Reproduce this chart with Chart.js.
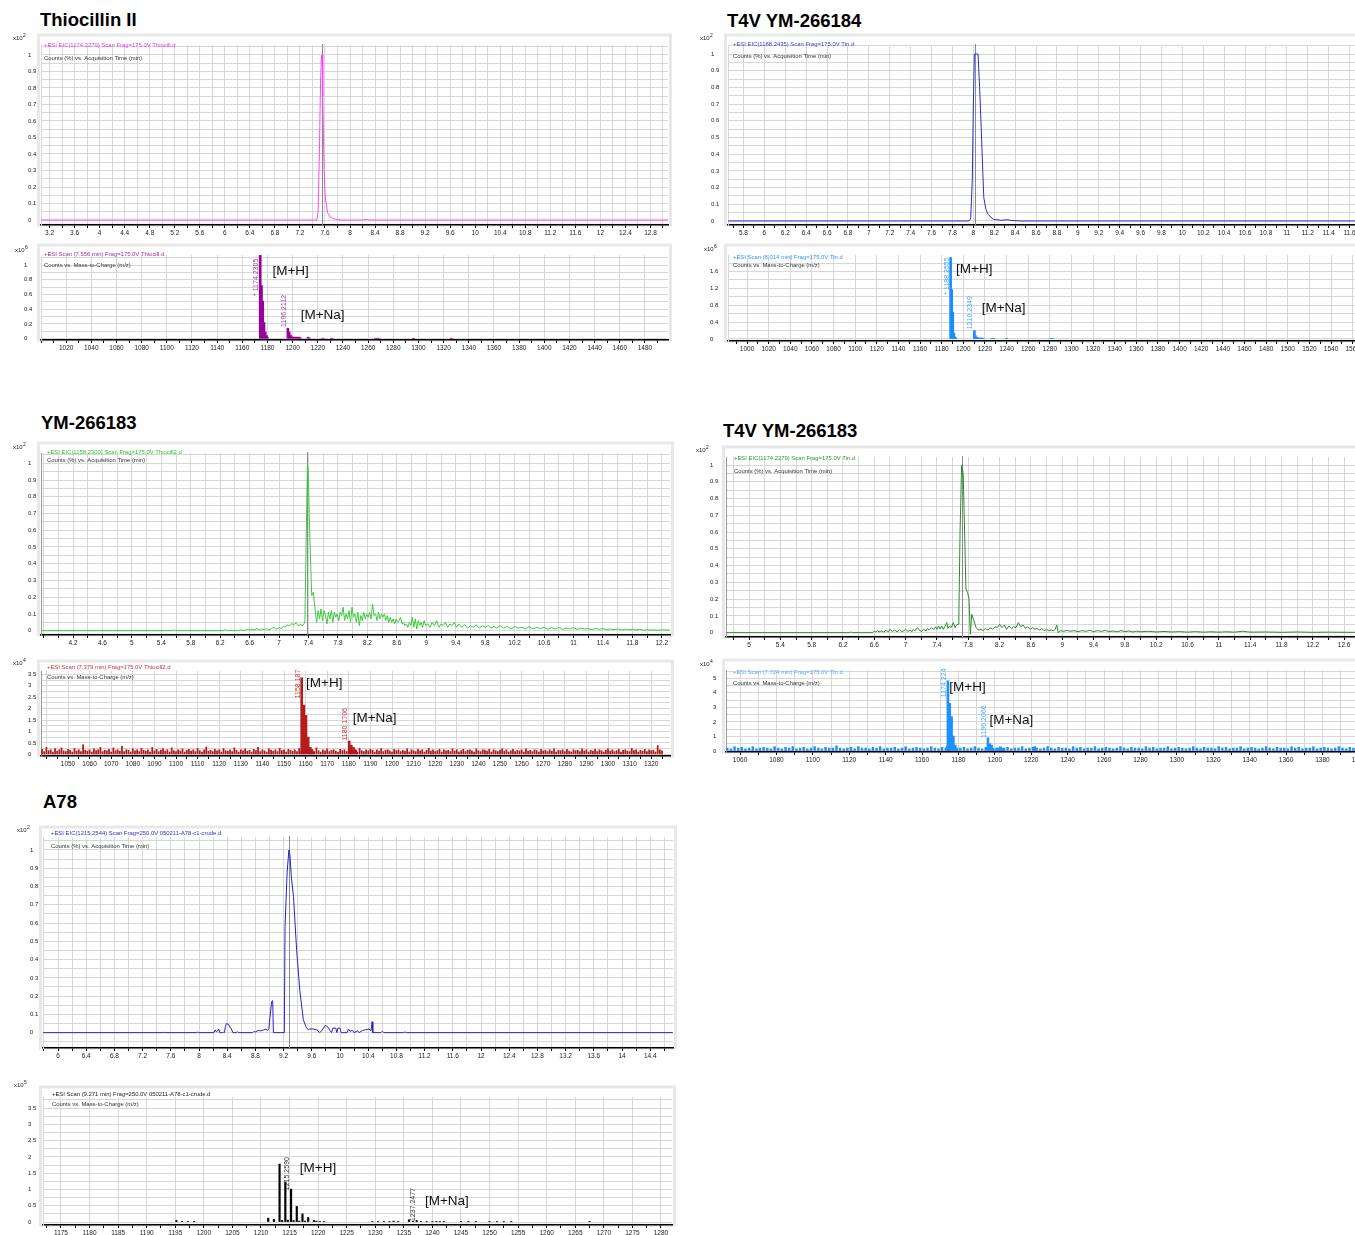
<!DOCTYPE html>
<html>
<head>
<meta charset="utf-8">
<script src="https://cdn.jsdelivr.net/npm/chart.js@4.4.1/dist/chart.umd.min.js"></script>
<style>
  body { margin: 0; width: 1355px; height: 1235px; overflow: hidden; background: #fff; position: relative; }
  .ttl { position: absolute; font: bold 18.5px "Liberation Sans", Arial, sans-serif; line-height: 1; color: #000; white-space: nowrap; }
  canvas { position: absolute; }
</style>
</head>
<body>
<div class="ttl" style="left:40px;top:11px">Thiocillin II</div>
<div class="ttl" style="left:727px;top:11.5px">T4V YM-266184</div>
<div class="ttl" style="left:41px;top:414px">YM-266183</div>
<div class="ttl" style="left:723px;top:421.5px">T4V YM-266183</div>
<div class="ttl" style="left:43px;top:793px">A78</div>

<canvas id="c1"></canvas>
<canvas id="c2"></canvas>
<canvas id="c3"></canvas>
<canvas id="c4"></canvas>
<canvas id="c5"></canvas>
<canvas id="c6"></canvas>
<canvas id="c7"></canvas>
<canvas id="c8"></canvas>
<canvas id="c9"></canvas>
<canvas id="c10"></canvas>

<script>
const FONT = '"Liberation Sans", Arial, sans-serif';
const GRID = '#d7d7d7';

// ---- Thiocillin II : EIC [time (min), counts x10^2] and MS [m/z, counts x10^6]
const thioEic = [[3.06,0],[7.47,0],[7.49,0.05],[7.51,0.4],[7.53,0.85],[7.545,1.0],[7.555,1.0],[7.565,0.75],
  [7.58,0.4],[7.595,0.2],[7.61,0.12],[7.62,0.1],[7.64,0.045],[7.68,0.02],[7.73,0.008],[7.8,0.003],[7.86,0],
  [8.2,0],[8.24,0.004],[8.28,0.002],[8.32,0],[13.08,0]];
const thioMs = [[1174.23,1.15],[1175.23,0.72],[1176.23,0.51],[1177.23,0.22],[1178.23,0.09],[1179.23,0.04],[1180.2,0.015],
  [1196.21,0.14],[1197.21,0.09],[1198.21,0.05],[1199.2,0.025],[1200.2,0.02],[1201.2,0.02],[1202.2,0.02],[1203.2,0.02],
  [1204.2,0.02],[1205.2,0.02],[1206.2,0.01],[1212.2,0.02],[1213.2,0.01],[1224,0.005],[1231,0.005],[1266,0.005],
  [1268,0.005],[1296,0.004],[1326,0.004]];

// ---- T4V YM-266184
const t4v184Eic = [[5.65,0],[7.95,0],[7.965,0.003],[7.975,0.02],[7.99,0.25],[8.0,0.7],[8.01,1.0],[8.03,1.0],[8.045,1.0],
  [8.06,0.8],[8.075,0.56],[8.09,0.3],[8.1,0.14],[8.12,0.07],[8.14,0.04],[8.19,0.01],[8.27,0.004],[8.33,0.008],
  [8.36,0.003],[8.45,0],[11.82,0]];
const t4v184Ms = [[1188.26,1.93],[1189.26,1.17],[1190.26,0.63],[1191.26,0.14],[1192.26,0.05],[1193.2,0.02],
  [1210.23,0.2],[1211.23,0.08],[1212.2,0.04],[1213.2,0.03],[1214.2,0.02],[1215.2,0.02],[1216.2,0.02],[1217.2,0.02],
  [1218.2,0.02],[1226,0.01],[1228,0.01],[1240,0.008],[1281,0.01],[1282,0.01]];

// ---- YM-266183
const ym183Eic = [[3.77,0],[5.55,0],[5.57,0.006],[5.59,0],[6.25,0],[6.27,0.008],[6.29,0],[6.45,0],[6.47,0.006],[6.5,0.001],
  [6.55,0.004],[6.58,0.01],[6.6,0.003],[6.63,0.008],[6.66,0.004],[6.7,0.012],[6.73,0.005],[6.76,0.01],[6.8,0.006],
  [6.83,0.012],[6.86,0.004],[6.9,0.014],[6.93,0.02],[6.96,0.008],[7.0,0.018],[7.03,0.012],[7.06,0.028],[7.08,0.02],
  [7.11,0.034],[7.14,0.028],[7.17,0.042],[7.2,0.036],[7.23,0.045],[7.26,0.03],[7.29,0.038],[7.31,0.028],[7.33,0.035],
  [7.35,0.05],[7.37,0.6],[7.385,1.0],[7.395,0.96],[7.42,0.52],[7.443,0.21],[7.465,0.23],[7.49,0.12],[7.51,0.05],
  [7.53,0.12],[7.55,0.07],[7.57,0.13],[7.59,0.06],[7.61,0.12],[7.63,0.09],[7.65,0.04],[7.67,0.11],[7.69,0.07],
  [7.71,0.12],[7.73,0.05],[7.75,0.11],[7.77,0.08],[7.79,0.1],[7.81,0.06],[7.83,0.11],[7.85,0.09],[7.87,0.14],
  [7.89,0.06],[7.91,0.1],[7.93,0.07],[7.95,0.12],[7.97,0.05],[7.99,0.14],[8.01,0.08],[8.03,0.1],[8.05,0.05],
  [8.07,0.11],[8.09,0.03],[8.11,0.09],[8.13,0.06],[8.15,0.11],[8.17,0.07],[8.19,0.1],[8.21,0.08],[8.23,0.11],
  [8.25,0.07],[8.27,0.16],[8.29,0.09],[8.31,0.1],[8.33,0.06],[8.35,0.11],[8.37,0.07],[8.39,0.1],[8.41,0.08],
  [8.43,0.1],[8.45,0.06],[8.47,0.09],[8.49,0.05],[8.51,0.08],[8.53,0.05],[8.55,0.07],[8.57,0.04],[8.59,0.07],
  [8.61,0.05],[8.63,0.06],[8.65,0.08],[8.67,0.04],[8.69,0.05],[8.71,0.03],[8.73,0.04],[8.75,0.02],[8.77,0.05],
  [8.79,0.03],[8.81,0.08],[8.83,0.02],[8.85,0.07],[8.87,0.01],[8.89,0.06],[8.91,0.03],[8.93,0.05],[8.95,0.02],
  [8.97,0.06],[8.99,0.03],[9.02,0.04],[9.05,0.02],[9.08,0.05],[9.11,0.03],[9.14,0.06],[9.17,0.02],[9.2,0.04],
  [9.23,0.03],[9.26,0.05],[9.29,0.02],[9.32,0.04],[9.35,0.03],[9.38,0.05],[9.41,0.02],[9.44,0.04],[9.48,0.02],
  [9.52,0.035],[9.56,0.015],[9.6,0.03],[9.64,0.02],[9.68,0.035],[9.72,0.015],[9.76,0.03],[9.8,0.02],[9.84,0.03],
  [9.88,0.015],[9.92,0.025],[9.96,0.015],[10.0,0.03],[10.05,0.015],[10.1,0.025],[10.15,0.01],[10.2,0.025],
  [10.25,0.015],[10.3,0.02],[10.35,0.01],[10.4,0.025],[10.45,0.01],[10.5,0.02],[10.55,0.012],[10.6,0.02],
  [10.65,0.008],[10.7,0.018],[10.75,0.01],[10.8,0.02],[10.85,0.008],[10.9,0.015],[10.95,0.01],[11.0,0.018],
  [11.05,0.008],[11.1,0.015],[11.15,0.01],[11.2,0.012],[11.25,0.006],[11.3,0.014],[11.35,0.008],[11.4,0.012],
  [11.45,0.005],[11.5,0.01],[11.55,0.006],[11.6,0.01],[11.65,0.004],[11.7,0.009],[11.75,0.005],[11.8,0.008],
  [11.85,0.004],[11.9,0.007],[11.95,0.003],[12.0,0.006],[12.05,0.003],[12.1,0.005],[12.15,0.002],[12.2,0.004],[12.31,0.003]];
const ym183Ms = [[1158.19,3.35],[1159.19,2.15],[1160.19,1.7],[1161.19,0.75],[1162.2,0.3],[1163.2,0.15],
  [1180.17,0.58],[1181.17,0.4],[1182.17,0.3],[1183.2,0.18]];
// baseline noise, one value per m/z unit starting at 1037
const ym183NoiseStart = 1037;
const ym183Noise = [
  .18,.22,.12,.3,.16,.2,.1,.25,.14,.2,.28,.15,.12,.22,.18,.1,.26,.15,.2,.12,.42,.18,.14,.2,
  .1,.24,.16,.2,.3,.12,.18,.15,.22,.1,.28,.16,.2,.14,.35,.12,.2,.18,.1,.24,.15,.2,.12,.26,
  .18,.14,.2,.1,.3,.15,.22,.12,.18,.25,.14,.2,.1,.28,.16,.12,.2,.15,.24,.1,.18,.22,.14,.2,
  .12,.26,.16,.1,.2,.32,.14,.18,.12,.22,.15,.2,.1,.25,.16,.14,.2,.12,.28,.18,.1,.2,.15,.24,
  .14,.18,.1,.22,.16,.3,.12,.2,.15,.1,.24,.18,.14,.2,.12,.26,.16,.2,.1,.22,.18,.14,.2,.12,
  .25,.15,.1,.2,.18,.14,.22,.12,.28,.16,.1,.2,.15,.24,.12,.18,.2,.14,.1,.22,.16,.2,.12,.18,
  .24,.14,.2,.1,.26,.16,.12,.2,.15,.22,.18,.1,.2,.14,.25,.12,.18,.2,.15,.1,.22,.16,.2,.12,
  .18,.14,.24,.1,.2,.16,.12,.22,.15,.2,.1,.18,.26,.14,.2,.12,.16,.22,.1,.2,.15,.18,.12,.24,
  .14,.2,.1,.16,.22,.12,.18,.2,.15,.1,.24,.16,.12,.2,.18,.14,.22,.1,.2,.16,.12,.18,.24,.14,
  .2,.1,.16,.22,.12,.18,.15,.2,.1,.24,.14,.18,.12,.2,.16,.1,.22,.15,.18,.12,.2,.14,.24,.1,
  .18,.16,.2,.12,.22,.14,.1,.2,.16,.18,.12,.24,.15,.2,.1,.18,.14,.22,.12,.2,.16,.1,.18,.24,
  .14,.2,.12,.16,.22,.1,.18,.2,.14,.12,.26,.16,.2,.1,.18,.14,.22,.12,.2,.16,.18,.1,.38,.2,
  .15];

// ---- T4V YM-266183
const t4v183Eic = [[4.7,0],[6.28,0],[6.3,0.004],[6.32,0],[6.58,0],[6.6,0.01],[6.62,0.003],[6.64,0.012],[6.66,0.004],
  [6.69,0.01],[6.72,0.003],[6.75,0.014],[6.78,0.005],[6.8,0.02],[6.83,0.007],[6.86,0.015],[6.89,0.004],[6.92,0.018],
  [6.95,0.006],[6.98,0.012],[7.0,0.02],[7.03,0.007],[7.06,0.016],[7.08,0.005],[7.1,0.02],[7.12,0.01],[7.15,0.03],
  [7.18,0.012],[7.2,0.008],[7.23,0.02],[7.26,0.01],[7.28,0.025],[7.3,0.015],[7.33,0.03],[7.36,0.018],[7.38,0.035],
  [7.4,0.02],[7.42,0.04],[7.44,0.022],[7.46,0.04],[7.48,0.02],[7.5,0.035],[7.525,0.06],[7.54,0.025],[7.56,0.04],
  [7.58,0.03],[7.61,0.06],[7.63,0.03],[7.65,0.045],[7.67,0.05],[7.68,0.1],[7.695,0.6],[7.715,1.0],[7.735,0.95],
  [7.757,0.53],[7.77,0.26],[7.79,0.24],[7.81,0.2],[7.826,-0.01],[7.844,0.11],[7.865,0.08],[7.9,0.03],[7.93,0.015],
  [7.96,0.02],[7.99,0.012],[8.02,0.025],[8.05,0.015],[8.08,0.03],[8.11,0.02],[8.14,0.035],[8.17,0.03],[8.2,0.05],
  [8.23,0.03],[8.26,0.045],[8.29,0.02],[8.32,0.04],[8.35,0.025],[8.38,0.035],[8.41,0.03],[8.44,0.06],[8.47,0.035],
  [8.5,0.045],[8.53,0.025],[8.56,0.035],[8.59,0.02],[8.62,0.03],[8.65,0.02],[8.68,0.025],[8.71,0.015],[8.74,0.025],
  [8.77,0.012],[8.8,0.02],[8.83,0.01],[8.86,0.016],[8.89,0.01],[8.91,0.02],[8.93,0.045],[8.95,0.0],[8.98,0.012],
  [9.02,0.008],[9.06,0.014],[9.1,0.008],[9.15,0.012],[9.2,0.006],[9.25,0.012],[9.3,0.008],[9.35,0.014],[9.4,0.006],
  [9.45,0.012],[9.5,0.008],[9.55,0.013],[9.6,0.006],[9.65,0.01],[9.7,0.005],[9.75,0.012],[9.8,0.006],[9.85,0.01],
  [9.9,0.004],[9.95,0.009],[10.0,0.005],[10.1,0.008],[10.2,0.004],[10.3,0.007],[10.4,0.004],[10.5,0.006],[10.6,0.003],
  [10.7,0.006],[10.8,0.003],[10.9,0.005],[11.0,0.003],[11.1,0.005],[11.2,0.003],[11.3,0.008],[11.4,0.003],[11.6,0.004],
  [11.8,0.002],[12.0,0.004],[12.2,0.002],[12.4,0.003],[12.6,0.002],[12.96,0.002]];
const t4v183Ms = [[1173.8,0.34],[1174.22,4.83],[1174.7,0.34],[1175.22,3.28],[1175.7,0.3],[1176.22,2.36],[1177.22,1.03],
  [1178.22,0.4],[1179.2,0.15],[1196.21,0.91],[1197.21,0.5],[1198.21,0.4],[1199.2,0.1],[1201,0.2],[1202,0.2],
  [1203,0.2],[1204,0.2],[1205,0.15],[1222,0.3]];
// baseline noise, one value every 2 m/z units starting at 1053
const t4v183NoiseStart = 1053;
const t4v183Noise = [
  .2,.15,.3,.2,.25,.15,.2,.3,.15,.2,.25,.2,.15,.3,.2,.15,.25,.2,.3,.15,.2,.25,.15,.2,
  .3,.2,.15,.25,.2,.2,.35,.2,.15,.2,.25,.15,.3,.2,.2,.15,.25,.2,.3,.15,.2,.2,.25,.15,
  .2,.3,.15,.2,.25,.2,.15,.2,.3,.2,.15,.25,.2,.3,.15,.2,.2,.25,.15,.2,.3,.2,.15,.25,
  .2,.2,.15,.3,.2,.25,.15,.2,.2,.3,.15,.2,.25,.2,.15,.2,.3,.2,.15,.25,.2,.2,.15,.3,
  .2,.25,.15,.2,.2,.3,.15,.2,.25,.2,.15,.2,.3,.2,.15,.25,.2,.2,.15,.3,.2,.25,.15,.2,
  .2,.3,.15,.2,.25,.2,.15,.2,.3,.2,.15,.25,.2,.2,.15,.3,.2,.25,.15,.2,.2,.3,.15,.2,
  .25,.2,.15,.2,.3,.2,.15,.25,.2,.2,.15,.3,.2,.25,.15,.2,.2,.3,.15,.2,.25,.2,.15,.2,
  .3,.2,.15,.25,.2,.2,.15,.3,.2];

// ---- A78
const a78Eic = [[5.79,0],[7.49,0],[7.5,0.003],[7.51,0],[7.97,0],[7.98,0.005],[7.99,0],[8.21,0],[8.23,0.015],[8.245,0.004],
  [8.26,0.008],[8.28,0.02],[8.295,0],[8.33,0],[8.345,0.002],[8.36,0],[8.375,0.035],[8.39,0.05],[8.42,0.045],[8.44,0.03],
  [8.46,0.02],[8.48,0],[8.53,0],[8.545,0.006],[8.56,0],[8.76,0],[8.775,0.006],[8.8,0.004],[8.84,0.012],[8.88,0.01],
  [8.92,0.015],[8.95,0.02],[8.97,0.012],[8.99,0.02],[9.03,0.17],[9.045,0.175],[9.055,0],[9.21,0],[9.22,0.58],
  [9.25,0.88],[9.275,1.0],[9.29,0.97],[9.31,0.85],[9.34,0.745],[9.385,0.45],[9.43,0.23],[9.48,0.07],[9.52,0.03],
  [9.55,0.015],[9.57,0.02],[9.62,0.02],[9.67,0.015],[9.71,0],[9.74,0.01],[9.79,0.04],[9.83,0.03],[9.86,0.01],[9.88,0],
  [9.9,0.025],[9.94,0.025],[9.955,0],[9.97,0.025],[10.0,0.025],[10.015,0],[10.1,0],[10.12,0.02],[10.14,0.008],
  [10.18,0.012],[10.2,0],[10.25,0.01],[10.27,0],[10.32,0.012],[10.36,0.015],[10.41,0.02],[10.44,0.01],[10.455,0.06],
  [10.465,0],[10.58,0],[10.6,0.008],[10.62,0],[10.9,0],[10.92,0.004],[10.94,0],[14.72,0]];
const a78Ms = [[1195.2,0.05],[1196.2,0.02],[1197.2,0.02],[1198.3,0.01],[1211.26,0.12],[1212.26,0.08],[1213.25,1.78],
  [1213.7,0.05],[1214.26,1.23],[1214.7,0.06],[1215.26,1.01],[1215.7,0.05],[1216.26,0.48],[1216.7,0.03],[1217.26,0.25],
  [1217.7,0.03],[1218.26,0.14],[1219.26,0.05],[1219.7,0.03],[1220.3,0.02],[1221,0.01],[1229.5,0.01],[1230.5,0.01],
  [1231.5,0.01],[1232.5,0.01],[1233.2,0.03],[1234,0.01],[1235.9,0.07],[1236.6,0.03],[1237.25,0.05],[1238,0.02],
  [1239,0.01],[1240,0.01],[1240.7,0.01],[1241.3,0.01],[1242,0.01],[1245,0.01],[1246.3,0.01],[1247.6,0.01],[1250,0.01],
  [1251.3,0.01],[1252.5,0.01],[1253.8,0.01],[1267.5,0.01]];

const pts = arr => arr.map(d => ({x: d[0], y: d[1]}));
const noisePts = (start, gap, vals) => vals.map((v, i) => ({x: start + i * gap, y: v}));

function isStep(v, s, from) {
  const k = (v - (from || 0)) / s;
  return Math.abs(k - Math.round(k)) < 1e-6;
}
function fmt(v) { return String(parseFloat(v.toFixed(4))); }
// every multiple of step inside [min, max]
function stepTicks(min, max, step) {
  const out = [];
  for (let k = Math.ceil(min / step - 1e-9); k * step <= max + 1e-9; k++) {
    out.push({value: parseFloat((k * step).toFixed(6))});
  }
  return out;
}

function makeDecor(p) {
  return {
    id: 'decor',
    beforeDraw(chart) {
      const {ctx, chartArea: a} = chart;
      ctx.save();
      ctx.strokeStyle = '#e8e8e8';
      ctx.lineWidth = 3;
      ctx.strokeRect(a.left - 2.5, a.top - 10, a.right - a.left + 5, a.bottom - a.top + 10);
      ctx.restore();
    },
    beforeDatasetsDraw(chart) {
      const {ctx, chartArea: a, scales} = chart;
      if (p.marker == null) return;
      ctx.save();
      const mx = Math.round(scales.x.getPixelForValue(p.marker)) + 0.5;
      ctx.strokeStyle = '#8a8a8a';
      ctx.lineWidth = 1;
      ctx.beginPath();
      ctx.moveTo(mx, a.top - 1);
      ctx.lineTo(mx, a.bottom);
      ctx.stroke();
      ctx.restore();
    },
    afterDatasetsDraw(chart) {
      const {ctx, chartArea: a, scales} = chart;
      ctx.save();
      ctx.textAlign = 'left';
      ctx.textBaseline = 'middle';
      // header lines
      ctx.font = '5.9px ' + FONT;
      p.info.forEach(t => {
        ctx.fillStyle = t[1];
        ctx.fillText(t[0], a.left + p.infoDx, a.top + t[2]);
      });
      // exponent
      ctx.fillStyle = '#222';
      ctx.font = '6px ' + FONT;
      const ex = a.left + p.exp[0], ey = a.top + p.exp[1];
      ctx.fillText('x10', ex, ey);
      const w = ctx.measureText('x10').width;
      ctx.font = '5px ' + FONT;
      ctx.fillText(p.exp[2], ex + w + 0.3, ey - 2.5);
      // peak labels (rotated)
      (p.peaks || []).forEach(k => {
        ctx.save();
        ctx.translate(scales.x.getPixelForValue(k.mz) - 4, scales.y.getPixelForValue(k.at));
        ctx.rotate(-Math.PI / 2);
        ctx.font = '7px ' + FONT;
        ctx.fillStyle = p.peakColor;
        ctx.fillText(k.text, 0, 0);
        ctx.restore();
      });
      // ion annotations
      ctx.font = '13.5px ' + FONT;
      ctx.fillStyle = '#111';
      (p.ions || []).forEach(k => {
        ctx.fillText(k.text, scales.x.getPixelForValue(k.mz), scales.y.getPixelForValue(k.at));
      });
      ctx.restore();
    }
  };
}

function makePanel(p) {
  const cv = document.getElementById(p.id);
  cv.width = p.box[2];
  cv.height = p.box[3];
  cv.style.left = p.box[0] + 'px';
  cv.style.top = p.box[1] + 'px';
  const yw = p.plot[0] - p.yLabelX, xh = 14;

  let datasets;
  if (p.type === 'line') {
    datasets = [{data: pts(p.trace), borderColor: p.color, borderWidth: 1, pointRadius: 0, tension: 0}];
  } else {
    datasets = p.bars.map(b => ({data: b.data, backgroundColor: b.color, barThickness: b.thick, grouped: false}));
  }

  new Chart(cv, {
    type: p.type,
    data: {datasets},
    options: {
      responsive: false,
      animation: false,
      devicePixelRatio: 1,
      layout: {padding: {
        left: p.yLabelX - p.box[0],
        top: p.plot[1] - p.box[1],
        right: p.box[0] + p.box[2] - p.plot[2],
        bottom: p.box[1] + p.box[3] - p.plot[3] - xh
      }},
      plugins: {legend: {display: false}, tooltip: {enabled: false}},
      scales: {
        x: {
          type: 'linear', min: p.x.min, max: p.x.max, offset: false,
          afterBuildTicks: s => { s.ticks = stepTicks(p.x.min, p.x.max, p.x.step); },
          afterFit: s => { s.height = xh; },
          ticks: {
            autoSkip: false, maxRotation: 0, minRotation: 0, padding: 1,
            color: '#222', font: {size: 6.5, family: FONT},
            callback: v => (v >= p.x.first - 1e-9 && isStep(v, p.x.label, p.x.first)) ? fmt(v) : ''
          },
          grid: {
            offset: false, lineWidth: 1, tickLength: 3, tickColor: '#000',
            color: c => isStep(c.tick.value, p.x.grid) ? GRID : 'rgba(0,0,0,0)'
          },
          border: {color: '#000', width: 1.5}
        },
        y: {
          min: p.y.min, max: p.y.max,
          afterBuildTicks: s => { s.ticks = stepTicks(p.y.min, p.y.max, p.y.step); },
          afterFit: s => { s.width = yw; },
          ticks: {
            autoSkip: false, crossAlign: 'far', padding: 0,
            color: '#222', font: {size: 6, family: FONT},
            callback: v => (v >= -1e-9 && isStep(v, p.y.label)) ? fmt(v) : ''
          },
          grid: {color: GRID, drawTicks: false, lineWidth: 1},
          border: {color: p.yBorder || GRID, width: 1}
        }
      }
    },
    plugins: [makeDecor(p)]
  });
}

const EIC_LINE2 = 'Counts (%) vs. Acquisition Time (min)';
const MS_LINE2 = 'Counts vs. Mass-to-Charge (m/z)';

makePanel({
  id: 'c1', type: 'line', box: [0, 30, 680, 210], plot: [41, 45, 668, 225], yLabelX: 28,
  x: {min: 3.063, max: 13.08, step: 0.2, grid: 0.2, label: 0.4, first: 3.2},
  y: {min: -0.0303, max: 1.0606, step: 0.05, label: 0.1},
  trace: thioEic, color: '#ff44ff', marker: 7.556, exp: [-28, -7, '2'], infoDx: 3,
  info: [['+ESI EIC(1174.2279) Scan Frag=175.0V Thiocill.d', '#e23de2', 0], [EIC_LINE2, '#333', 13]]
});
makePanel({
  id: 'c2', type: 'bar', box: [0, 240, 680, 120], plot: [41, 255, 668, 340], yLabelX: 24,
  x: {min: 1000, max: 1498.3, step: 10, grid: 20, label: 20, first: 1020},
  y: {min: -0.018, max: 1.136, step: 0.1, label: 0.2},
  bars: [{data: pts(thioMs), color: '#990099', thick: 2}], exp: [-26, -5, '6'], infoDx: 3,
  info: [['+ESI Scan (7.556 min) Frag=175.0V Thiocill.d', '#a02ca0', -1], [MS_LINE2, '#333', 10]],
  peakColor: '#a640a6',
  peaks: [{text: '* 1174.2305', mz: 1174.23, at: 0.58}, {text: '1196.2112', mz: 1196.21, at: 0.16}],
  ions: [{text: '[M+H]', mz: 1183.9, at: 0.91}, {text: '[M+Na]', mz: 1206.4, at: 0.32}]
});
makePanel({
  id: 'c3', type: 'line', box: [690, 30, 700, 210], plot: [728, 45, 1372, 225], yLabelX: 711,
  x: {min: 5.652, max: 11.815, step: 0.1, grid: 0.2, label: 0.2, first: 5.8},
  y: {min: -0.024, max: 1.054, step: 0.05, label: 0.1},
  trace: t4v184Eic, color: '#2b2bd9', marker: 8.014, exp: [-28, -7, '2'], infoDx: 5,
  info: [['+ESI EIC(1188.2435) Scan Frag=175.0V Tin.d', '#3b3be0', -1], [EIC_LINE2, '#333', 11]]
});
makePanel({
  id: 'c4', type: 'bar', box: [690, 240, 700, 120], plot: [728, 255, 1372, 341], yLabelX: 710,
  x: {min: 982.4, max: 1577.9, step: 10, grid: 20, label: 20, first: 1000},
  y: {min: -0.048, max: 1.99, step: 0.2, label: 0.4},
  bars: [{data: pts(t4v184Ms), color: '#1a8cff', thick: 2}], exp: [-24, -6, '6'], infoDx: 5,
  info: [['+ESI Scan (8.014 min) Frag=175.0V Tin.d', '#2f95ff', 2], [MS_LINE2, '#333', 10]],
  peakColor: '#4aa3ff',
  peaks: [{text: '* 1188.2555', mz: 1188.26, at: 1.05}, {text: '1210.2349', mz: 1210.23, at: 0.23}],
  ions: [{text: '[M+H]', mz: 1193.3, at: 1.66}, {text: '[M+Na]', mz: 1217, at: 0.73}]
});
makePanel({
  id: 'c5', type: 'line', box: [0, 440, 680, 210], plot: [41, 453, 670, 635], yLabelX: 28,
  x: {min: 3.765, max: 12.311, step: 0.2, grid: 0.2, label: 0.4, first: 4.2},
  y: {min: -0.026, max: 1.0615, step: 0.05, label: 0.1}, yBorder: '#9a9a9a',
  trace: ym183Eic, color: '#3ccc3c', marker: 7.385, exp: [-28, -6, '2'], infoDx: 6,
  info: [['+ESI EIC(1158.2300) Scan Frag=175.0V Thiocill2.d', '#2fbf2f', -1], [EIC_LINE2, '#333', 7]]
});
makePanel({
  id: 'c6', type: 'bar', box: [0, 650, 680, 120], plot: [41, 671, 670, 756], yLabelX: 28,
  x: {min: 1037.5, max: 1328.7, step: 5, grid: 10, label: 10, first: 1050},
  y: {min: -0.074, max: 3.644, step: 0.25, label: 0.5}, yBorder: '#9a9a9a',
  bars: [{data: noisePts(ym183NoiseStart, 1, ym183Noise), color: '#b01818', thick: 1.1},
         {data: pts(ym183Ms), color: '#b71c1c', thick: 2}],
  exp: [-28, -8, '4'], infoDx: 6,
  info: [['+ESI Scan (7.379 min) Frag=175.0V Thiocill2.d', '#cc3333', -4], [MS_LINE2, '#333', 6]],
  peakColor: '#c83232',
  peaks: [{text: '1158.187', mz: 1158.19, at: 2.45}, {text: '1180.1706', mz: 1180.17, at: 0.6}],
  ions: [{text: '[M+H]', mz: 1160.2, at: 3.1}, {text: '[M+Na]', mz: 1181.8, at: 1.57}]
});
makePanel({
  id: 'c7', type: 'line', box: [690, 440, 700, 210], plot: [726, 457, 1372, 637], yLabelX: 710,
  x: {min: 4.706, max: 12.956, step: 0.2, grid: 0.2, label: 0.4, first: 5},
  y: {min: -0.026, max: 1.048, step: 0.05, label: 0.1}, yBorder: '#9a9a9a',
  trace: t4v183Eic, color: '#2a8c2a', marker: 7.724, exp: [-30, -7, '2'], infoDx: 8,
  info: [['+ESI EIC(1174.2279) Scan Frag=175.0V Tin.d', '#2a9a2a', 1], [EIC_LINE2, '#333', 14]]
});
makePanel({
  id: 'c8', type: 'bar', box: [690, 650, 700, 120], plot: [726, 670, 1372, 752], yLabelX: 713,
  x: {min: 1052.3, max: 1407.2, step: 10, grid: 10, label: 20, first: 1060},
  y: {min: -0.07, max: 5.57, step: 0.5, label: 1}, yBorder: '#9a9a9a',
  bars: [{data: noisePts(t4v183NoiseStart, 2, t4v183Noise), color: '#1e90ff', thick: 1.8},
         {data: pts(t4v183Ms), color: '#1e90ff', thick: 2}],
  exp: [-26, -6, '4'], infoDx: 7,
  info: [['+ESI Scan (7.724 min) Frag=175.0V Tin.d', '#5aa8ff', 2], [MS_LINE2, '#333', 13]],
  peakColor: '#4aa3ff',
  peaks: [{text: '1174.224', mz: 1174.22, at: 3.7}, {text: '1196.2066', mz: 1196.21, at: 0.9}],
  ions: [{text: '[M+H]', mz: 1175, at: 4.38}, {text: '[M+Na]', mz: 1197, at: 2.13}]
});
makePanel({
  id: 'c9', type: 'line', box: [0, 815, 690, 255], plot: [43, 837, 673, 1048], yLabelX: 30,
  x: {min: 5.787, max: 14.723, step: 0.2, grid: 0.2, label: 0.4, first: 6},
  y: {min: -0.084, max: 1.071, step: 0.05, label: 0.1},
  trace: a78Eic, color: '#2323d0', marker: 9.271, exp: [-26, -7, '2'], infoDx: 8,
  info: [['+ESI EIC(1215.2544) Scan Frag=250.0V 050211-A78-c1-crude.d', '#3030d0', -4], [EIC_LINE2, '#333', 9]]
});
makePanel({
  id: 'c10', type: 'bar', box: [0, 1075, 690, 160], plot: [43, 1097, 672, 1225], yLabelX: 28,
  x: {min: 1171.85, max: 1281.93, step: 2.5, grid: 5, label: 5, first: 1175},
  y: {min: -0.09, max: 3.84, step: 0.25, label: 0.5},
  bars: [{data: pts(a78Ms), color: '#000', thick: 1.5}], exp: [-29, -12, '5'], infoDx: 9,
  info: [['+ESI Scan (9.271 min) Frag=250.0V 050211-A78-c1-crude.d', '#222', -3], [MS_LINE2, '#333', 7]],
  peakColor: '#333',
  peaks: [{text: '1215.2590', mz: 1215.26, at: 0.98}, {text: '1237.2477', mz: 1237.25, at: 0.03}],
  ions: [{text: '[M+H]', mz: 1216.8, at: 1.66}, {text: '[M+Na]', mz: 1238.7, at: 0.64}]
});
</script>
</body>
</html>
